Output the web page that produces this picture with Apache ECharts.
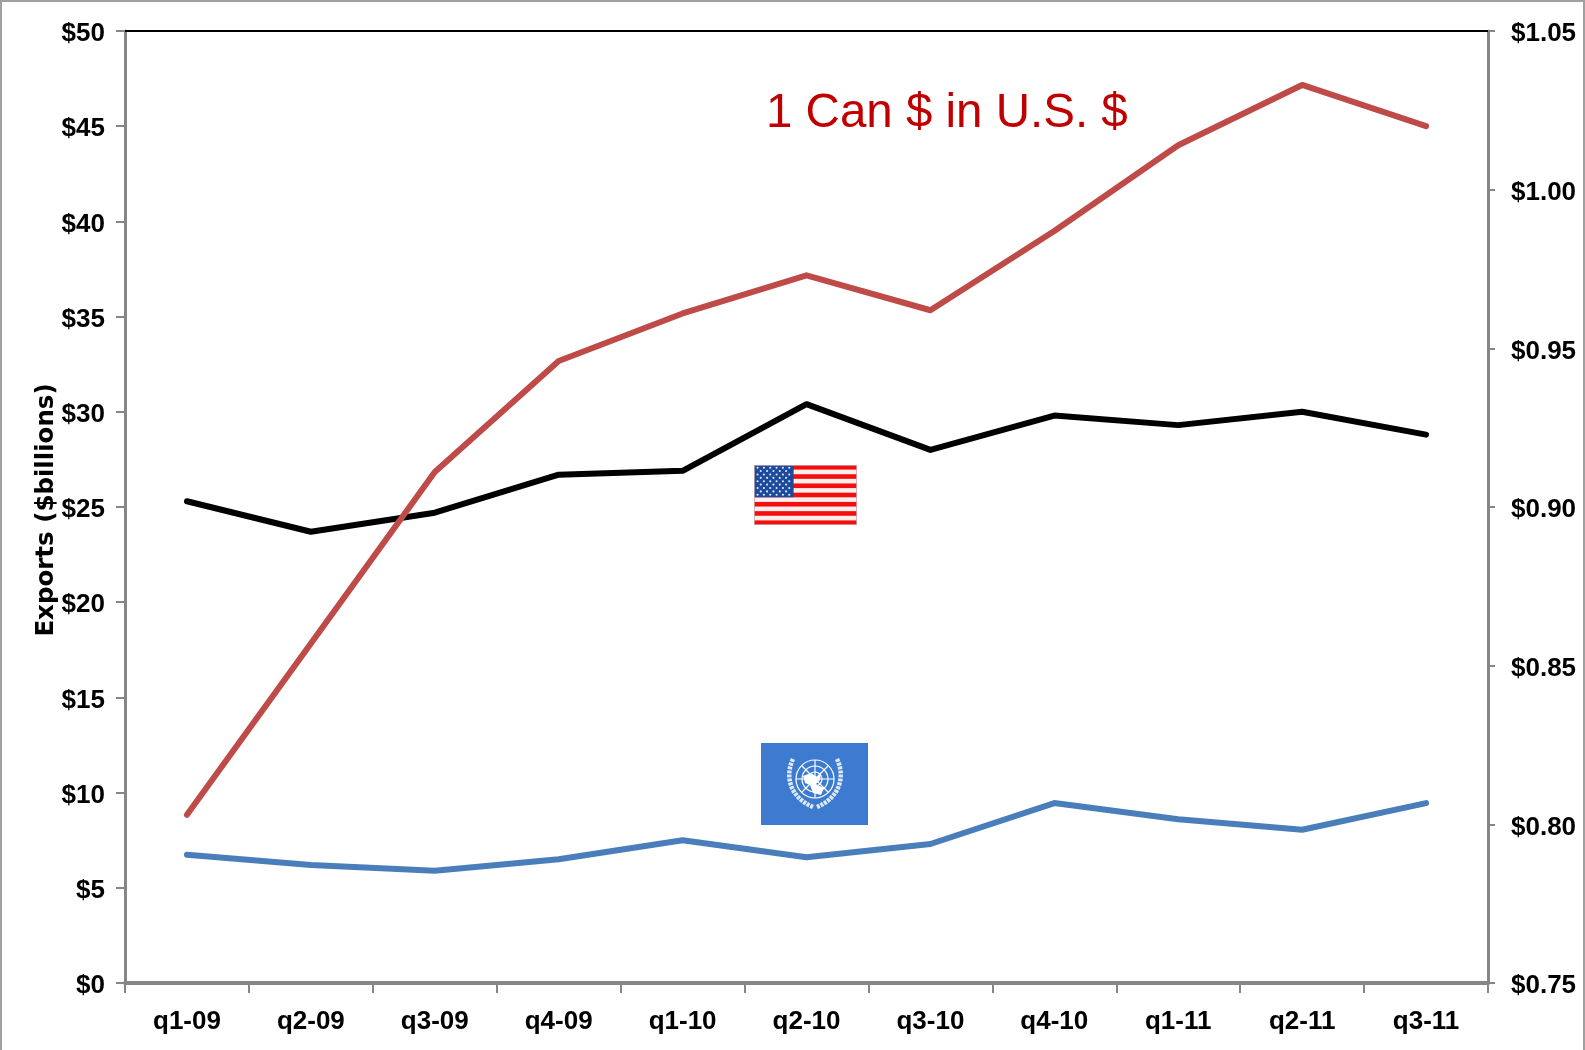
<!DOCTYPE html>
<html><head><meta charset="utf-8">
<style>html,body{margin:0;padding:0;background:#fff}#c{width:1585px;height:1050px}</style>
<script src="https://cdn.jsdelivr.net/npm/echarts@6/dist/echarts.min.js"></script>
</head><body><div id="c"></div>
<script>
const categories = ['q1-09','q2-09','q3-09','q4-09','q1-10','q2-10','q3-10','q4-10','q1-11','q2-11','q3-11'];
const usExports = [25.3,23.7,24.7,26.7,26.9,30.4,28.0,29.8,29.3,30.0,28.8];
const unExports = [6.74,6.2,5.9,6.5,7.5,6.6,7.3,9.45,8.6,8.05,9.45];
const cadInUsd = [0.803,0.857,0.911,0.946,0.961,0.973,0.962,0.987,1.014,1.033,1.02];

function usFlag(){
  let s='<svg xmlns="http://www.w3.org/2000/svg" width="103" height="60" viewBox="0 0 130 78" preserveAspectRatio="none">';
  s+='<rect width="130" height="78" fill="#fdeeee"/>';
  for(let i=0;i<7;i++) s+='<rect y="'+(i*12)+'" width="130" height="6" fill="#f40f0f"/>';
  s+='<rect width="50" height="42" fill="#1c4a9c"/>';
  for(let r=0;r<9;r++){const n=r%2?5:6;for(let i=0;i<n;i++){
    s+='<circle cx="'+(4.5+(r%2?4:0)+i*8)+'" cy="'+(3.5+r*4.4)+'" r="1.35" fill="#dfe8f7"/>';}}
  s+='<rect x="0.5" y="0.5" width="129" height="77" fill="none" stroke="#c9a9b0" stroke-width="1"/>';
  return s+'</svg>';
}
function unFlag(){
  let s='<svg xmlns="http://www.w3.org/2000/svg" width="107" height="82" viewBox="0 0 107 82">';
  s+='<rect width="107" height="82" fill="#3c7bcf"/>';
  s+='<g fill="none" stroke="#fff" stroke-width="1.2"><circle cx="54" cy="36" r="19"/><circle cx="54" cy="36" r="13"/><circle cx="54" cy="36" r="7"/><path d="M35 36H73M54 17V55M41 23L67 49M67 23L41 49"/></g>';
  s+='<path d="M42 33L50 30L56 34L60 31L59 37L55 41L63 45L60 52L52 50L49 42L44 40Z" fill="#fff"/>';
  s+='<g fill="none" stroke="#dfe9f7" stroke-width="4.5" stroke-dasharray="3 1"><path d="M32 16C24 32 28 54 52 64"/><path d="M76 16C84 32 80 54 56 64"/></g>';
  return s+'</svg>';
}
const uri=s=>'data:image/svg+xml;charset=utf-8,'+encodeURIComponent(s);

const tickFont={fontFamily:'"Liberation Sans",sans-serif',fontWeight:'bold',fontSize:26,color:'#000'};
const GRAY='#868686';
const chart=echarts.init(document.getElementById('c'),null,{renderer:'canvas'});
const line=(name,data,color,yi)=>({name,type:'line',data,yAxisIndex:yi,xAxisIndex:0,symbol:'none',animation:false,z:3,
  lineStyle:{color,width:6,cap:'round',join:'round'}});
chart.setOption({
  animation:false,backgroundColor:'#fff',
  grid:{left:125,right:97,top:31,bottom:67,containLabel:false},
  xAxis:[
    {type:'category',data:categories,position:'bottom',boundaryGap:true,
     axisLine:{show:true,onZero:false,lineStyle:{color:GRAY,width:4}},
     axisTick:{show:true,length:10,inside:false,alignWithLabel:false,lineStyle:{color:GRAY,width:2}},
     axisLabel:Object.assign({margin:26,interval:0},tickFont),splitLine:{show:false}},
    {type:'category',data:categories,position:'top',
     axisLine:{show:true,onZero:false,lineStyle:{color:'#000',width:2}},
     axisTick:{show:false},axisLabel:{show:false},splitLine:{show:false}}
  ],
  yAxis:[
    {type:'value',min:0,max:50,interval:5,position:'left',
     name:'Exports ($billions)',nameLocation:'middle',nameGap:66,nameRotate:90,nameMoveOverlap:false,
     nameTextStyle:{fontFamily:'"DejaVu Sans",sans-serif',fontWeight:'bold',fontSize:24.5,color:'#000',padding:[0,6,0,0]},
     axisLine:{show:true,lineStyle:{color:GRAY,width:3}},
     axisTick:{show:true,length:9,lineStyle:{color:GRAY,width:2}},
     axisLabel:Object.assign({margin:20,verticalAlign:'top',lineHeight:6,formatter:v=>'$'+v},tickFont),splitLine:{show:false}},
    {type:'value',min:0.75,max:1.05,interval:0.05,position:'right',
     axisLine:{show:true,lineStyle:{color:GRAY,width:3}},
     axisTick:{show:true,length:7,lineStyle:{color:GRAY,width:2}},
     axisLabel:Object.assign({margin:23,verticalAlign:'top',lineHeight:6,formatter:v=>'$'+v.toFixed(2)},tickFont),splitLine:{show:false}}
  ],
  series:[
    line('U.S. exports',usExports,'#000000',0),
    line('Other exports',unExports,'#4a7ebb',0),
    line('1 Can $ in U.S. $',cadInUsd,'#be4b48',1)
  ],
  graphic:[
    {type:'rect',silent:true,z:-1,shape:{x:1,y:1,width:1583,height:1060},style:{fill:'none',stroke:'#a0a0a0',lineWidth:2}},
    {type:'text',left:766,top:90,z:5,style:{text:'1 Can $ in U.S. $',fill:'#c00000',font:'47.5px "Liberation Sans",sans-serif'}},
    {type:'image',left:754,top:465,z:5,style:{image:uri(usFlag()),width:103,height:60}},
    {type:'image',left:761,top:743,z:5,style:{image:uri(unFlag()),width:107,height:82}}
  ]
});
</script></body></html>
